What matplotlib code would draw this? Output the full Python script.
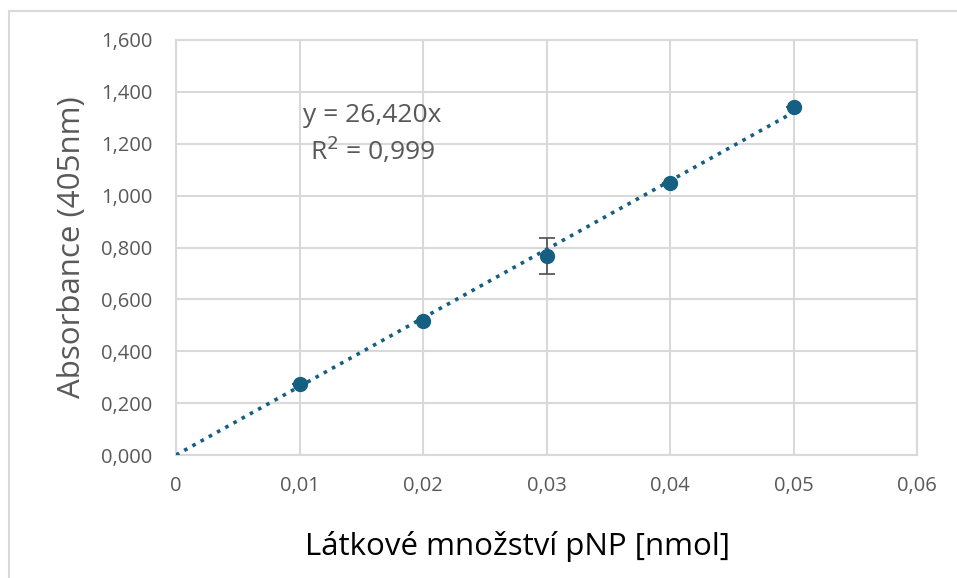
import numpy as np
import matplotlib.pyplot as plt
from matplotlib.patches import Rectangle
from matplotlib.ticker import FuncFormatter

plt.rcParams['font.family'] = ['Open Sans', 'DejaVu Sans']

# pNP calibration data
amount_nmol = [0.01, 0.02, 0.03, 0.04, 0.05]
absorbance = [0.274, 0.517, 0.767, 1.050, 1.342]
abs_err = [0.0, 0.0, 0.068, 0.0, 0.0]
slope = 26.420
r2 = 0.999

blue = "#156082"
grid_col = "#d9d9d9"
txt_col = "#595959"

fig = plt.figure(figsize=(9.57, 5.78), dpi=100)
fig.patches.append(Rectangle((9 / 957, -0.1), 1.1, 1.1 - 11 / 578,
                             transform=fig.transFigure, fill=False,
                             edgecolor=grid_col, linewidth=1.5))
ax = fig.add_axes([176 / 957, 123 / 578, 741 / 957, 415 / 578])

# trendline through origin
xt = np.linspace(0, max(amount_nmol), 50)
ax.plot(xt, slope * xt, linestyle=(0, (1, 1.6)), color=blue, linewidth=2.6,
        zorder=3)

ax.errorbar(amount_nmol, absorbance, yerr=abs_err, fmt='o', color=blue,
            markersize=10, ecolor="#595959", elinewidth=1.3, capsize=6,
            capthick=1.3, zorder=4)

ax.set_xlim(0, 0.06)
ax.set_ylim(0, 1.6)
ax.set_xticks(np.arange(0, 0.061, 0.01))
ax.set_yticks(np.arange(0, 1.61, 0.2))
ax.xaxis.set_major_formatter(FuncFormatter(
    lambda v, p: "0" if abs(v) < 1e-9 else f"{v:.2f}".replace(".", ",")))
ax.yaxis.set_major_formatter(FuncFormatter(
    lambda v, p: f"{v:.3f}".replace(".", ",")))
ax.tick_params(length=0, labelsize=14.5, colors=txt_col)
ax.tick_params(axis="y", pad=17)
ax.tick_params(axis="x", pad=15)
ax.grid(True, color=grid_col, linewidth=1.5)
ax.set_axisbelow(True)
for s in ax.spines.values():
    s.set_color(grid_col)
    s.set_linewidth(1.5)

ax.set_xlabel("Látkové množství pNP [nmol]", fontsize=22.5, color="black",
              labelpad=25, x=0.4615)
ax.set_ylabel("Absorbance (405nm)", fontsize=22.5, color=txt_col, labelpad=10)

ax.text(0.0159, 1.284, f"y = {slope:.3f}x".replace(".", ","), fontsize=19,
        color=txt_col, ha="center", va="baseline")
ax.text(0.0159, 1.137, f"R$^2$ = {r2:.3f}".replace(".", ","), fontsize=19,
        color=txt_col, ha="center", va="baseline")

fig.savefig("out.png", dpi=100)
